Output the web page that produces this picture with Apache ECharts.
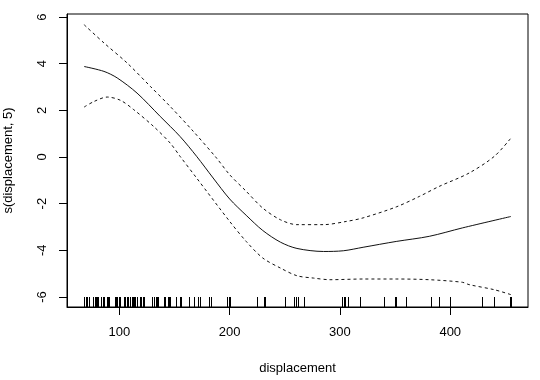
<!DOCTYPE html>
<html>
<head>
<meta charset="utf-8">
<script src="https://cdn.jsdelivr.net/npm/echarts@6/dist/echarts.min.js"></script>
<style>html,body{margin:0;padding:0;background:#fff}#c{width:540px;height:380px}</style>
</head>
<body>
<div id="c"></div>
<script>
// fitted smooth term
const fitX = [68, 86, 98, 116, 137, 155, 170, 185, 200, 215, 230, 246, 261, 285, 303, 321, 351, 381, 411, 455];
const fitY = [3.88, 3.67, 3.39, 2.74, 1.74, 0.88, 0.03, -0.9, -1.8, -2.5, -3.15, -3.65, -3.92, -4.05, -4.02, -3.87, -3.62, -3.40, -3.04, -2.55];
// upper band
const upX = [68, 86, 107, 128, 146, 167, 188, 200, 215, 230, 246, 261, 285, 306, 321, 351, 372, 390, 417, 440, 455];
const upY = [5.67, 4.89, 4.03, 3.03, 2.17, 1.10, -0.04, -0.76, -1.47, -2.19, -2.69, -2.90, -2.90, -2.76, -2.61, -2.14, -1.69, -1.26, -0.69, 0.03, 0.81];
// lower band
const loX = [68, 77, 89, 101, 113, 131, 146, 155, 170, 200, 215, 230, 246, 261, 276, 291, 321, 351, 381, 411, 417, 440, 455];
const loY = [2.14, 2.38, 2.57, 2.43, 2.03, 1.31, 0.60, 0.03, -0.9, -2.76, -3.62, -4.33, -4.76, -5.09, -5.19, -5.26, -5.23, -5.23, -5.26, -5.37, -5.47, -5.69, -5.90];
// rug of observed displacement values
const rug = [68, 70, 71, 72, 76, 78, 79, 80, 81, 83, 85, 86, 89, 90, 91, 96, 97, 98, 100, 101, 104, 105, 107, 108, 110, 111, 112, 113, 114, 116, 119, 120, 121, 122, 130, 131, 133, 134, 135, 140, 141, 144, 145, 146, 151, 155, 156, 163, 168, 171, 173, 181, 183, 198, 199, 200, 225, 231, 232, 250, 258, 260, 262, 267, 302, 304, 305, 307, 318, 340, 350, 351, 360, 383, 390, 400, 429, 440, 454, 455];
const xTicks = [100, 200, 300, 400];
const yTicks = [-6, -4, -2, 0, 2, 4, 6];

const zip = (a, b) => a.map((v, i) => [v, b[i]]);
const font = 'Liberation Sans, Arial, sans-serif';
const chart = echarts.init(document.getElementById('c'), null, {renderer: 'canvas'});
chart.setOption({
  animation: false,
  backgroundColor: '#fff',
  grid: {left: 67, right: 12, top: 14, bottom: 73, show: true, borderColor: '#000', borderWidth: 1,
         containLabel: false, outerBoundsMode: 'none'},
  xAxis: {
    type: 'value', min: 52.5, max: 470.5,
    name: 'displacement', nameLocation: 'middle', nameGap: 55,
    nameTextStyle: {fontFamily: font, fontSize: 13, color: '#000'},
    axisLine: {show: true, onZero: false, lineStyle: {color: '#000', width: 1}},
    axisTick: {show: true, length: 8, customValues: xTicks, lineStyle: {color: '#000'}},
    axisLabel: {customValues: xTicks, fontFamily: font, fontSize: 13, color: '#000', margin: 19},
    splitLine: {show: false}
  },
  yAxis: {
    type: 'value', min: -6.43, max: 6.13,
    name: 's(displacement, 5)', nameLocation: 'middle', nameGap: 52,
    nameTextStyle: {fontFamily: font, fontSize: 13, color: '#000'},
    axisLine: {show: true, onZero: false, lineStyle: {color: '#000', width: 1}},
    axisTick: {show: true, length: 8, customValues: yTicks, lineStyle: {color: '#000'}},
    axisLabel: {customValues: yTicks, rotate: 90, fontFamily: font, fontSize: 13, color: '#000', margin: 18},
    splitLine: {show: false}
  },
  series: [
    {type: 'line', data: zip(fitX, fitY), smooth: 0.3, showSymbol: false,
     lineStyle: {color: '#111', width: 1}},
    {type: 'line', data: zip(upX, upY), smooth: 0.3, showSymbol: false,
     lineStyle: {color: '#111', width: 1, type: [3, 3]}},
    {type: 'line', data: zip(loX, loY), smooth: 0.3, showSymbol: false,
     lineStyle: {color: '#111', width: 1, type: [3, 3]}},
    {type: 'custom', data: rug.map(v => [v, 0]),
     renderItem: function (params, api) {
       const p = api.coord([api.value(0), 0]);
       const bottom = params.coordSys.y + params.coordSys.height;
       const x = Math.round(p[0]) + 0.5;
       return {type: 'line', shape: {x1: x, y1: bottom, x2: x, y2: bottom - 10},
               style: {stroke: '#000', lineWidth: 1}};
     }}
  ]
});
</script>
</body>
</html>
